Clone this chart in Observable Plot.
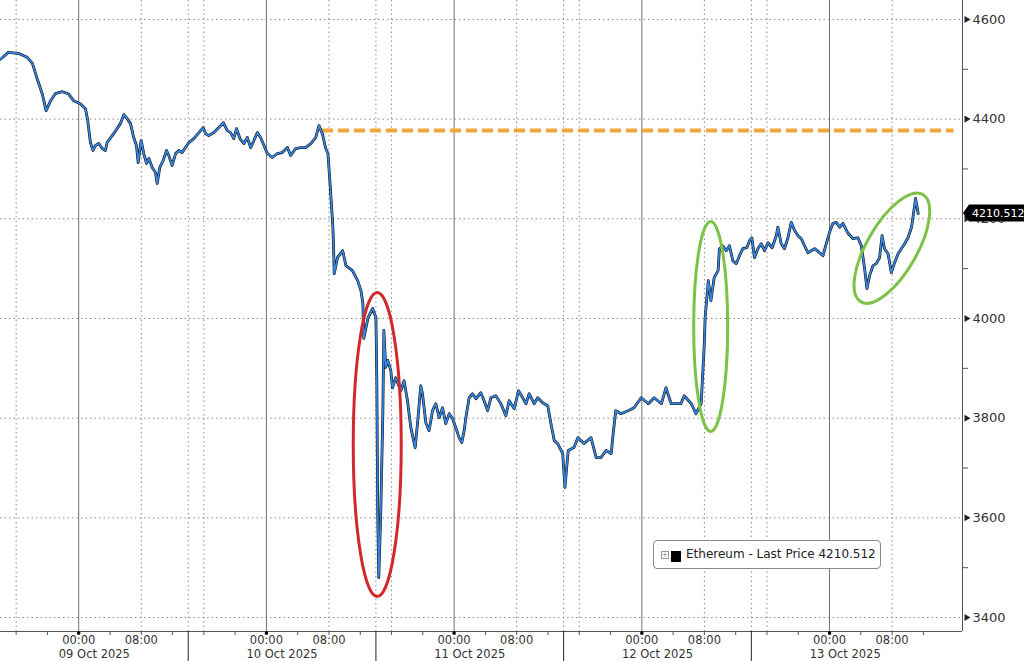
<!DOCTYPE html>
<html><head><meta charset="utf-8">
<script src="https://cdn.jsdelivr.net/npm/d3@7"></script>
<script src="https://cdn.jsdelivr.net/npm/@observablehq/plot@0.6"></script>
<style>
body{margin:0;background:#fff;}
#wrap{position:relative;width:1024px;height:661px;overflow:hidden;background:#fff;}
.legend{position:absolute;left:653px;top:540px;width:228px;height:29px;border:1px solid #8a8a8a;border-radius:4px;background:#fff;font:12px "DejaVu Sans",sans-serif;color:#222;box-sizing:border-box;}
.legend .ico{position:absolute;left:7px;top:10px;width:6px;height:6px;border:1px solid #999;font-size:7px;line-height:6px;text-align:center;color:#777;}
.legend .sq{position:absolute;left:17px;top:10px;width:10px;height:11px;background:#000;}
.legend .txt{position:absolute;left:32px;top:6px;white-space:nowrap;}
</style></head><body><div id="wrap"></div>
<script>
// ---- data (UTC times, price) ----
const times = [
"2025-10-08T14:00","2025-10-08T15:00","2025-10-08T16:15","2025-10-08T17:25","2025-10-08T18:05","2025-10-08T18:45","2025-10-08T19:20","2025-10-08T19:50","2025-10-08T20:25","2025-10-08T21:00","2025-10-08T21:55","2025-10-08T22:40","2025-10-08T23:20",
"2025-10-09T00:13","2025-10-09T00:52","2025-10-09T01:09","2025-10-09T01:30","2025-10-09T01:50","2025-10-09T02:08","2025-10-09T02:34","2025-10-09T03:00","2025-10-09T03:25","2025-10-09T03:38","2025-10-09T04:17","2025-10-09T04:55","2025-10-09T05:20","2025-10-09T05:46","2025-10-09T06:12","2025-10-09T06:37","2025-10-09T07:02","2025-10-09T07:23","2025-10-09T07:36","2025-10-09T07:59","2025-10-09T08:19","2025-10-09T08:40","2025-10-09T08:58","2025-10-09T09:24","2025-10-09T09:49","2025-10-09T10:02","2025-10-09T10:22","2025-10-09T10:48","2025-10-09T11:14","2025-10-09T11:31","2025-10-09T11:57","2025-10-09T12:23","2025-10-09T12:48","2025-10-09T13:14","2025-10-09T13:39","2025-10-09T14:05","2025-10-09T14:43","2025-10-09T15:22","2025-10-09T15:55","2025-10-09T16:13","2025-10-09T16:38","2025-10-09T17:17","2025-10-09T17:55","2025-10-09T18:29","2025-10-09T19:00","2025-10-09T19:25","2025-10-09T19:50","2025-10-09T20:11","2025-10-09T20:37","2025-10-09T21:07","2025-10-09T21:33","2025-10-09T21:59","2025-10-09T22:24","2025-10-09T22:50","2025-10-09T23:15","2025-10-09T23:41",
"2025-10-10T00:07","2025-10-10T00:45","2025-10-10T01:24","2025-10-10T02:02","2025-10-10T02:41","2025-10-10T03:06","2025-10-10T03:44","2025-10-10T04:23","2025-10-10T05:01","2025-10-10T05:40","2025-10-10T06:18","2025-10-10T06:43","2025-10-10T07:09","2025-10-10T07:35","2025-10-10T07:52","2025-10-10T08:08","2025-10-10T08:30","2025-10-10T08:36","2025-10-10T08:40","2025-10-10T09:05","2025-10-10T09:45","2025-10-10T10:10","2025-10-10T11:00","2025-10-10T11:40","2025-10-10T12:05","2025-10-10T12:20","2025-10-10T12:27","2025-10-10T13:00","2025-10-10T13:35","2025-10-10T14:00","2025-10-10T14:07","2025-10-10T14:14","2025-10-10T14:22","2025-10-10T14:37","2025-10-10T14:53","2025-10-10T15:01","2025-10-10T15:15","2025-10-10T15:31","2025-10-10T15:54","2025-10-10T16:07","2025-10-10T16:32","2025-10-10T17:11","2025-10-10T17:36","2025-10-10T18:02","2025-10-10T18:28","2025-10-10T19:01","2025-10-10T19:19","2025-10-10T19:44","2025-10-10T19:57","2025-10-10T20:23","2025-10-10T20:48","2025-10-10T21:14","2025-10-10T21:40","2025-10-10T22:05","2025-10-10T22:31","2025-10-10T22:56","2025-10-10T23:22","2025-10-10T23:48",
"2025-10-11T00:13","2025-10-11T00:38","2025-10-11T00:59","2025-10-11T01:17","2025-10-11T01:30","2025-10-11T01:55","2025-10-11T02:21","2025-10-11T02:47","2025-10-11T03:25","2025-10-11T03:50","2025-10-11T04:17","2025-10-11T04:42","2025-10-11T05:20","2025-10-11T05:59","2025-10-11T06:37","2025-10-11T07:02","2025-10-11T07:41","2025-10-11T08:14","2025-10-11T08:46","2025-10-11T09:11","2025-10-11T09:36","2025-10-11T10:14","2025-10-11T10:41","2025-10-11T11:19","2025-10-11T11:58","2025-10-11T12:23","2025-10-11T12:48","2025-10-11T13:14","2025-10-11T13:53","2025-10-11T14:10","2025-10-11T14:35","2025-10-11T15:20","2025-10-11T15:50","2025-10-11T16:35","2025-10-11T17:30","2025-10-11T18:10","2025-10-11T18:45","2025-10-11T19:25","2025-10-11T20:05","2025-10-11T20:20","2025-10-11T20:40","2025-10-11T21:20","2025-10-11T22:15","2025-10-11T23:00","2025-10-11T23:55",
"2025-10-12T00:50","2025-10-12T01:35","2025-10-12T02:30","2025-10-12T03:05","2025-10-12T03:45","2025-10-12T05:00","2025-10-12T05:25","2025-10-12T06:20","2025-10-12T06:55","2025-10-12T07:35","2025-10-12T07:58","2025-10-12T08:06","2025-10-12T08:30","2025-10-12T08:50","2025-10-12T09:15","2025-10-12T09:45","2025-10-12T09:55","2025-10-12T10:21","2025-10-12T10:47","2025-10-12T11:12","2025-10-12T11:38","2025-10-12T12:04","2025-10-12T12:29","2025-10-12T12:55","2025-10-12T13:26","2025-10-12T13:46","2025-10-12T14:04","2025-10-12T14:24","2025-10-12T14:50","2025-10-12T15:15","2025-10-12T15:41","2025-10-12T16:07","2025-10-12T16:40","2025-10-12T17:11","2025-10-12T17:24","2025-10-12T17:49","2025-10-12T18:14","2025-10-12T18:41","2025-10-12T19:06","2025-10-12T19:31","2025-10-12T19:58","2025-10-12T20:23","2025-10-12T20:48","2025-10-12T21:14","2025-10-12T21:40","2025-10-12T22:05","2025-10-12T22:43","2025-10-12T23:10","2025-10-12T23:35",
"2025-10-13T00:00","2025-10-13T00:26","2025-10-13T00:52","2025-10-13T01:17","2025-10-13T01:43","2025-10-13T02:22","2025-10-13T03:00","2025-10-13T03:38","2025-10-13T04:04","2025-10-13T04:29","2025-10-13T04:47","2025-10-13T05:07","2025-10-13T05:34","2025-10-13T05:59","2025-10-13T06:24","2025-10-13T06:43","2025-10-13T07:02","2025-10-13T07:29","2025-10-13T07:54","2025-10-13T08:19","2025-10-13T08:46","2025-10-13T09:11","2025-10-13T09:36","2025-10-13T10:02","2025-10-13T10:29","2025-10-13T10:53","2025-10-13T11:00","2025-10-13T11:20"
];
const prices = [
4520,4534,4532,4524,4512,4478,4451,4417,4437,4451,4455,4451,4437,
4431,4421,4397,4353,4337,4347,4351,4341,4337,4353,4367,4381,4391,4409,4401,4391,4363,4347,4313,4357,4331,4311,4321,4303,4293,4271,4303,4317,4337,4327,4307,4331,4337,4333,4343,4353,4361,4373,4383,4371,4367,4373,4383,4393,4377,4373,4361,4381,4361,4351,4363,4343,4357,4373,4363,4347,
4331,4323,4331,4333,4343,4327,4341,4343,4343,4351,4363,4387,4371,4341,4331,4271,4183,4136,4090,4122,4136,4106,4096,4076,4056,4030,3960,4002,4020,4002,3875,3609,3480,3609,3809,3976,3902,3916,3896,3861,3881,3855,3875,3835,3781,3741,3789,3865,3849,3791,3775,3815,3829,3801,3821,3789,3809,3799,
3781,3761,3751,3775,3801,3841,3849,3839,3851,3835,3815,3841,3845,3829,3805,3835,3819,3855,3841,3829,3849,3829,3841,3831,3825,3789,3755,3749,3729,3661,3735,3741,3761,3749,3761,3721,3721,3735,3729,3769,3815,3809,3815,3821,3841,
3829,3841,3829,3861,3829,3829,3845,3829,3809,3829,3942,4002,4076,4036,4082,4096,4140,4146,4136,4146,4116,4110,4126,4140,4142,4156,4162,4122,4140,4150,4136,4152,4142,4166,4183,4150,4140,4162,4193,4177,4166,4160,4146,4132,4136,4140,4132,4126,4150,
4173,4191,4193,4183,4191,4171,4160,4162,4146,4100,4060,4086,4106,4110,4122,4166,4140,4130,4092,4112,4130,4140,4150,4162,4183,4227,4241,4210.512
];
const lastPrice = 4210.512;
const seriesName = "Ethereum - Last Price";

// reference level (orange dashed)
const resistance = 4377;
const resStart = "2025-10-10T07:10";
const resEnd = "2025-10-13T15:55";

// axes
const yMajor = [3400, 3600, 3800, 4000, 4200, 4400, 4600];
const yMinor = [3500, 3700, 3900, 4100, 4300, 4500];
const hourLabelTimes = ["2025-10-09T00:00","2025-10-09T08:00","2025-10-10T00:00","2025-10-10T08:00","2025-10-11T00:00","2025-10-11T08:00","2025-10-12T00:00","2025-10-12T08:00","2025-10-13T00:00","2025-10-13T08:00"];
const hourLabels = ["00:00","08:00","00:00","08:00","00:00","08:00","00:00","08:00","00:00","08:00"];
const dayLabelTimes = ["2025-10-09T02:00","2025-10-10T02:00","2025-10-11T02:00","2025-10-12T02:00","2025-10-13T02:00"];
const dayLabels = ["09 Oct 2025","10 Oct 2025","11 Oct 2025","12 Oct 2025","13 Oct 2025"];
const midnightTimes = ["2025-10-09T00:00","2025-10-10T00:00","2025-10-11T00:00","2025-10-12T00:00","2025-10-13T00:00"];
const separatorTimes = ["2025-10-09T14:00","2025-10-10T14:00","2025-10-11T14:00","2025-10-12T14:00"];
const dottedTimes = ["2025-10-08T16:00","2025-10-09T08:00","2025-10-09T14:00","2025-10-09T16:00","2025-10-10T08:00","2025-10-10T14:00","2025-10-10T16:00","2025-10-11T08:00","2025-10-11T14:00","2025-10-11T16:00","2025-10-12T08:00","2025-10-12T14:00","2025-10-12T16:00","2025-10-13T08:00"];

// annotations: centre in data units, size in px
const ellipses = [
  {at:"2025-10-10T14:14", price:3746, rx:24, ry:152, angle:0, color:"#d2282b"},
  {at:"2025-10-12T08:52", price:3983, rx:17, ry:105, angle:0, color:"#7cc246"},
  {at:"2025-10-13T08:02", price:4140, rx:62, ry:25, angle:-60, color:"#7cc246"}
];

const parse = s => new Date(s + ":00Z");
const data = times.map((t, i) => ({date: parse(t), price: prices[i]}));
const xDomain = [parse("2025-10-08T14:00"), parse("2025-10-13T17:00")];
const yDomain = [3372, 4638];
const minorTicks = d3.utcHour.every(4).range(parse("2025-10-08T16:00"), parse("2025-10-13T16:00"));
const grid = {stroke:"#8a8a8a", strokeDasharray:"1.5,3", strokeWidth:1};
const hourMap = new Map(hourLabelTimes.map((t, i) => [+parse(t), hourLabels[i]]));
const dayMap = new Map(dayLabelTimes.map((t, i) => [+parse(t), dayLabels[i]]));

const chart = Plot.plot({
  width: 1024, height: 661,
  marginLeft: 0, marginRight: 62, marginTop: 0, marginBottom: 30,
  style: {fontFamily: "DejaVu Sans, sans-serif", background: "#fff", color: "#333", overflow: "visible"},
  x: {type: "utc", domain: xDomain, axis: null, label: null},
  y: {domain: yDomain, axis: null, label: null},
  marks: [
    Plot.ruleY(yMajor, grid),
    Plot.ruleX(dottedTimes.map(parse), grid),
    Plot.ruleX(midnightTimes.map(parse), {stroke: "#707070"}),
    Plot.ruleY([resistance], {x1: parse(resStart), x2: parse(resEnd), stroke: "#f2a73b", strokeWidth: 4, strokeDasharray: "11,5"}),
    Plot.line(data, {x: "date", y: "price", stroke: "#111", strokeWidth: 2.8}),
    Plot.line(data, {x: "date", y: "price", stroke: "#3586e2", strokeWidth: 1.7}),
    Plot.ruleY([yDomain[0]], {stroke: "#555"}),
    Plot.ruleX([xDomain[1]], {stroke: "#555"}),
    Plot.axisX(minorTicks, {tickSize: 4, tickFormat: () => "", stroke: "#555", label: null}),
    Plot.axisX(separatorTimes.map(parse), {tickSize: 30, tickFormat: () => "", stroke: "#222", label: null}),
    Plot.axisX(hourLabelTimes.map(parse), {tickSize: 0, tickPadding: 4, tickFormat: d => hourMap.get(+d), fontSize: 11.5, label: null}),
    Plot.axisX(dayLabelTimes.map(parse), {tickSize: 0, tickPadding: 18, tickFormat: d => dayMap.get(+d), fontSize: 11.5, label: null}),
    Plot.dot(midnightTimes.map(parse), {x: d => d, y: () => yDomain[0], symbol: "square", r: 1.8, fill: "#000", dy: 1.5}),
    Plot.axisY(yMinor, {anchor: "right", tickSize: 5, tickFormat: () => "", stroke: "#555", label: null}),
    Plot.axisY(yMajor, {anchor: "right", tickSize: 0, tickPadding: 10, tickFormat: d => String(d), fontSize: 13, label: null}),
    Plot.dot(yMajor, {x: () => xDomain[1], y: d => d, symbol: "triangle", rotate: 90, r: 2.6, fill: "#222", dx: 4})
  ]
});

document.getElementById("wrap").appendChild(chart);

const svg = d3.select(chart);
const sx = chart.scale("x"), sy = chart.scale("y");
ellipses.forEach(e => {
  svg.append("ellipse")
    .attr("transform", `translate(${sx.apply(parse(e.at))},${sy.apply(e.price)}) rotate(${e.angle})`)
    .attr("rx", e.rx).attr("ry", e.ry)
    .attr("fill", "none").attr("stroke", e.color).attr("stroke-width", 3);
});
// last price tag
const ly = sy.apply(lastPrice), lx = sx.apply(xDomain[1]);
svg.append("path")
  .attr("d", `M${lx + 1},${ly}L${lx + 7},${ly - 8.5}H1024V${ly + 8.5}H${lx + 7}Z`)
  .attr("fill", "#000");
svg.append("text").attr("x", lx + 10).attr("y", ly).attr("dy", "0.35em")
  .attr("text-anchor", "start")
  .attr("fill", "#fff").attr("font-size", 11).attr("font-family", "DejaVu Sans, sans-serif")
  .text(d3.format(".3f")(lastPrice));

// legend
const lg = document.createElement("div");
lg.className = "legend";
lg.innerHTML = `<div class="ico">+</div><div class="sq"></div><div class="txt"></div>`;
lg.querySelector(".txt").textContent = `${seriesName} ${d3.format(".3f")(lastPrice)}`;
document.getElementById("wrap").appendChild(lg);
</script></body></html>
